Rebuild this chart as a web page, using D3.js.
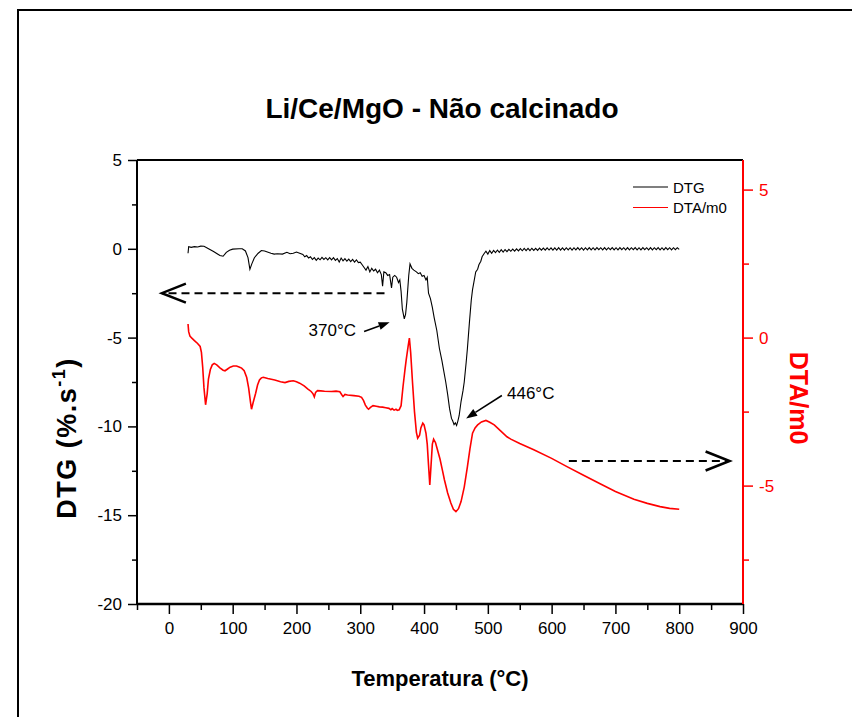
<!DOCTYPE html>
<html>
<head>
<meta charset="utf-8">
<script src="https://cdn.jsdelivr.net/npm/d3@7"></script>
<style>
  body { margin: 0; background: #fff; }
  #chart { width: 852px; height: 717px; }
  text { font-family: "Liberation Sans", Arial, sans-serif; }
</style>
</head>
<body>
<div id="chart"></div>
<script>
// Temperature ticks (°C)
const tempMajor = [0, 100, 200, 300, 400, 500, 600, 700, 800, 900];
const tempMinor = [-50, 50, 150, 250, 350, 450, 550, 650, 750, 850];
const dtgMajor = [-20, -15, -10, -5, 0, 5];
const dtgMinor = [-17.5, -12.5, -7.5, -2.5, 2.5];
const dtaMajor = [-5, 0, 5];
const dtaMinor = [-7.5, -2.5, 2.5];

// DTG curve [temperature, %.s-1]
const dtgMain = [
  [30, -0.25], [31, 0.12], [35, 0.08], [40, 0.12], [45, 0.1], [50, 0.15], [55, 0.14], [60, 0.05],
  [70, -0.15], [80, -0.38], [85, -0.42], [90, -0.2], [95, -0.08], [100, -0.02], [110, 0.0], [115, 0.0],
  [120, -0.12], [124, -0.5], [127, -1.15], [130, -0.85], [134, -0.5], [140, -0.25], [145, -0.1],
  [150, -0.12], [160, -0.25], [165, -0.3], [170, -0.28], [178, -0.3], [185, -0.2], [190, -0.28],
  [195, -0.25], [200, -0.18], [205, -0.25], [210, -0.32], [213, -0.45], [216, -0.38], [219, -0.52],
  [222, -0.45], [225, -0.6], [228, -0.5], [231, -0.65], [234, -0.52], [237, -0.62], [240, -0.48],
  [243, -0.6], [246, -0.5], [249, -0.62], [252, -0.5], [255, -0.62], [258, -0.5], [261, -0.65],
  [264, -0.55], [267, -0.75], [270, -0.52], [273, -0.68], [276, -0.55], [279, -0.7], [282, -0.58],
  [285, -0.72], [288, -0.6], [291, -0.75], [294, -0.62], [297, -0.78], [300, -0.75], [303, -0.9],
  [306, -1.05], [309, -1.2], [312, -1.0], [315, -1.3], [318, -1.1], [321, -1.25], [324, -1.15],
  [327, -1.35], [330, -1.2], [333, -1.45], [335, -2.1], [337, -1.3], [340, -1.35], [343, -1.5],
  [346, -1.45], [349, -2.2], [351, -1.6], [354, -1.5], [357, -1.6], [360, -1.9], [362, -1.75],
  [364, -2.4], [366, -3.4], [369, -3.95], [371, -3.7], [373, -3.0], [376, -1.5], [378, -0.85],
  [381, -1.1], [384, -1.2], [388, -1.3], [391, -1.4], [394, -1.35], [397, -1.55], [400, -1.5],
  [403, -1.75], [405, -1.6], [407, -2.5], [410, -2.8], [413, -3.3], [416, -3.9], [420, -4.6],
  [424, -5.6], [428, -6.3], [431, -6.9], [434, -7.5], [437, -8.2], [440, -9.0], [443, -9.55],
  [445, -9.7], [447, -9.9], [449, -9.8], [451, -9.95], [453, -9.7], [455, -9.4], [458, -8.6],
  [461, -8.0], [463, -7.5], [466, -6.4], [468, -5.6], [471, -4.2], [474, -2.9], [476, -2.3],
  [478, -1.9], [481, -1.3], [484, -1.15], [486, -0.9], [489, -0.7], [491, -0.45], [494, -0.28]
];
// the ripple on the flat end of the DTG curve
const dtgTail = [
  [497, -0.14], [500, -0.3], [503, -0.1], [506, -0.25], [509, -0.09], [512, -0.22], [515, -0.07],
  [518, -0.2], [521, -0.05], [524, -0.18], [527, -0.04], [530, -0.16], [533, -0.03], [536, -0.14],
  [539, -0.02], [542, -0.13], [545, 0.0], [548, -0.12], [551, 0.01], [554, -0.11], [557, 0.02],
  [560, -0.1], [563, 0.02], [566, -0.1], [569, 0.03], [572, -0.09], [575, 0.03], [578, -0.09],
  [581, 0.04], [584, -0.08], [587, 0.04], [590, -0.08], [593, 0.05], [596, -0.07], [599, 0.05],
  [602, -0.08], [605, 0.05], [608, -0.07], [611, 0.06], [614, -0.07], [617, 0.05], [620, -0.07],
  [623, 0.06], [626, -0.06], [629, 0.06], [632, -0.07], [635, 0.06], [638, -0.06], [641, 0.07],
  [644, -0.06], [647, 0.06], [650, -0.07], [653, 0.06], [656, -0.06], [659, 0.07], [662, -0.06],
  [665, 0.06], [668, -0.06], [671, 0.07], [674, -0.05], [677, 0.06], [680, -0.06], [683, 0.07],
  [686, -0.06], [689, 0.06], [692, -0.05], [695, 0.07], [698, -0.06], [701, 0.06], [704, -0.06],
  [707, 0.07], [710, -0.05], [713, 0.06], [716, -0.06], [719, 0.07], [722, -0.06], [725, 0.06],
  [728, -0.05], [731, 0.07], [734, -0.06], [737, 0.06], [740, -0.06], [743, 0.07], [746, -0.05],
  [749, 0.06], [752, -0.06], [755, 0.07], [758, -0.06], [761, 0.06], [764, -0.05], [767, 0.07],
  [770, -0.06], [773, 0.06], [776, -0.06], [779, 0.07], [782, -0.05], [785, 0.06], [788, -0.06],
  [791, 0.06], [794, -0.05], [797, 0.06], [800, -0.03]
];

// DTA/m0 curve [temperature, value]
const dtaCurve = [
  [30, 0.46], [31, 0.2], [33, 0.05], [36, -0.02], [40, -0.1], [45, -0.2], [49, -0.3], [51, -0.5],
  [53, -1.0], [55, -1.7], [57.5, -2.27], [60, -1.9], [62, -1.4], [65, -1.08], [68, -0.92], [71, -0.87],
  [75, -0.92], [80, -1.02], [85, -1.1], [88, -1.12], [92, -1.06], [96, -1.0], [101, -0.96],
  [106, -0.96], [110, -0.99], [114, -1.03], [118, -1.12], [122, -1.35], [125, -1.7], [128, -2.2],
  [129.5, -2.42], [132, -2.2], [136, -1.88], [139, -1.6], [142, -1.43], [145, -1.36], [148, -1.34],
  [155, -1.38], [166, -1.43], [175, -1.49], [182, -1.52], [188, -1.48], [195, -1.46], [200, -1.49],
  [205, -1.54], [212, -1.63], [218, -1.74], [223, -1.82], [226, -1.9], [228, -2.0], [230, -1.85],
  [233, -1.79], [238, -1.8], [244, -1.81], [255, -1.82], [262, -1.81], [268, -1.83], [271, -1.93],
  [273, -1.99], [276, -1.92], [280, -1.94], [290, -1.96], [298, -1.98], [302, -2.02], [305, -2.12],
  [308, -2.28], [311, -2.38], [313, -2.42], [316, -2.36], [320, -2.3], [325, -2.32], [330, -2.34],
  [335, -2.35], [340, -2.37], [345, -2.39], [348, -2.44], [350, -2.4], [353, -2.45], [356, -2.42],
  [358, -2.46], [361, -2.44], [364, -2.3], [367, -1.66], [370, -1.1], [372, -0.75], [375, -0.3],
  [377, -0.02], [379, -0.5], [382, -1.54], [385, -2.5], [388, -3.2], [390, -3.4], [393, -3.3],
  [395, -3.05], [398, -2.89], [400, -2.95], [403, -3.23], [405, -3.6], [407, -4.3], [409, -4.98],
  [411, -4.3], [413, -3.6], [415, -3.43], [418, -3.55], [421, -3.79], [425, -4.1], [429, -4.5],
  [432, -4.81], [437, -5.25], [442, -5.59], [446, -5.8], [450, -5.88], [454, -5.78], [458, -5.54],
  [463, -5.05], [468, -4.36], [472, -3.75], [476, -3.23], [480, -3.05], [484, -2.95], [490, -2.85],
  [497, -2.8], [503, -2.86], [510, -2.95], [520, -3.15], [530, -3.35], [536, -3.43], [550, -3.58],
  [572, -3.79], [600, -4.08], [624, -4.36], [650, -4.65], [676, -4.94], [700, -5.2], [729, -5.46],
  [750, -5.6], [770, -5.71], [785, -5.77], [800, -5.8]
];

const width = 852, height = 717;
const margin = { top: 160, right: 109, bottom: 113, left: 137 };
const font = '"Liberation Sans", Arial, sans-serif';

const svg = d3.select("#chart").append("svg")
  .attr("width", width)
  .attr("height", height);

// outer frame, runs off the right and bottom edges
svg.append("rect")
  .attr("x", 18).attr("y", 10)
  .attr("width", 900).attr("height", 800)
  .attr("fill", "none").attr("stroke", "#000").attr("stroke-width", 2);

const x = d3.scaleLinear().domain([-50, 900]).range([margin.left, width - margin.right]);
const yL = d3.scaleLinear().domain([-20, 5]).range([height - margin.bottom, margin.top]);
const yR = d3.scaleLinear().domain([-9, 6]).range([height - margin.bottom, margin.top]);

const x0 = x.range()[0], x1 = x.range()[1];
const yTop = yL.range()[1], yBot = yL.range()[0];

// plain hyphen for negative labels, as in the original plot
const plain = d => String(d);

function styleAxis(g, color, fontSize) {
  g.select(".domain").remove();
  g.selectAll(".tick line").attr("stroke", color).attr("stroke-width", 1.5);
  g.selectAll(".tick text").attr("fill", color).style("font-size", fontSize + "px").style("font-family", font);
}

// bottom axis
svg.append("g").attr("transform", `translate(0,${yBot})`)
  .call(d3.axisBottom(x).tickValues(tempMajor).tickFormat(plain).tickSize(10).tickPadding(8).tickSizeOuter(0))
  .call(g => styleAxis(g, "#000", 17));
svg.append("g").attr("transform", `translate(0,${yBot})`)
  .call(d3.axisBottom(x).tickValues(tempMinor).tickSize(6).tickFormat("").tickSizeOuter(0))
  .call(g => styleAxis(g, "#000", 17));

// left axis
svg.append("g").attr("transform", `translate(${x0},0)`)
  .call(d3.axisLeft(yL).tickValues(dtgMajor).tickFormat(plain).tickSize(9).tickPadding(6).tickSizeOuter(0))
  .call(g => styleAxis(g, "#000", 17));
svg.append("g").attr("transform", `translate(${x0},0)`)
  .call(d3.axisLeft(yL).tickValues(dtgMinor).tickSize(5).tickFormat("").tickSizeOuter(0))
  .call(g => styleAxis(g, "#000", 17));

// right axis (red)
svg.append("g").attr("transform", `translate(${x1},0)`)
  .call(d3.axisRight(yR).tickValues(dtaMajor).tickFormat(plain).tickSize(10).tickPadding(6).tickSizeOuter(0))
  .call(g => styleAxis(g, "red", 17));
svg.append("g").attr("transform", `translate(${x1},0)`)
  .call(d3.axisRight(yR).tickValues(dtaMinor).tickSize(6).tickFormat("").tickSizeOuter(0))
  .call(g => styleAxis(g, "red", 17));

// frame lines of the plot
svg.append("line").attr("x1", x0).attr("x2", x1).attr("y1", yTop).attr("y2", yTop)
  .attr("stroke", "#000").attr("stroke-width", 2);
svg.append("line").attr("x1", x0).attr("x2", x1).attr("y1", yBot).attr("y2", yBot)
  .attr("stroke", "#000").attr("stroke-width", 2.5);
svg.append("line").attr("x1", x0).attr("x2", x0).attr("y1", yTop).attr("y2", yBot)
  .attr("stroke", "#000").attr("stroke-width", 2);
svg.append("line").attr("x1", x1).attr("x2", x1).attr("y1", yTop).attr("y2", yBot)
  .attr("stroke", "red").attr("stroke-width", 2);

// curves
const lineL = d3.line().x(d => x(d[0])).y(d => yL(d[1]));
const lineR = d3.line().x(d => x(d[0])).y(d => yR(d[1]));

svg.append("path").datum(dtaCurve)
  .attr("d", lineR).attr("fill", "none").attr("stroke", "red").attr("stroke-width", 1.6);
svg.append("path").datum(dtgMain.concat(dtgTail))
  .attr("d", lineL).attr("fill", "none").attr("stroke", "#000").attr("stroke-width", 1.1);

// dashed arrows showing which axis each curve belongs to
function dashedArrow(xa, xb, y) {
  svg.append("line").attr("x1", xa).attr("x2", xb).attr("y1", y).attr("y2", y)
    .attr("stroke", "#000").attr("stroke-width", 2).attr("stroke-dasharray", "8,5");
  const dir = xb > xa ? -1 : 1;
  svg.append("polyline")
    .attr("points", `${xb + dir * 24},${y - 9.5} ${xb},${y} ${xb + dir * 24},${y + 9.5}`)
    .attr("fill", "none").attr("stroke", "#000").attr("stroke-width", 2.5);
}
dashedArrow(x(338), x(-11), yL(-2.5));
dashedArrow(x(627), x(879), yR(-4.17));

// peak annotations
function pointer(xa, ya, xb, yb) {
  const a = Math.atan2(yb - ya, xb - xa), len = 11, w = 4;
  const bx = xb - len * Math.cos(a), by = yb - len * Math.sin(a);
  svg.append("line").attr("x1", xa).attr("y1", ya).attr("x2", bx).attr("y2", by)
    .attr("stroke", "#000").attr("stroke-width", 1.5);
  svg.append("polygon")
    .attr("points", `${xb},${yb} ${bx + w * Math.sin(a)},${by - w * Math.cos(a)} ${bx - w * Math.sin(a)},${by + w * Math.cos(a)}`)
    .attr("fill", "#000");
}
svg.append("text").attr("x", x(219)).attr("y", yL(-4.9))
  .style("font-size", "17px").text("370°C");
pointer(x(306), yL(-4.66), x(346), yL(-4.14));
svg.append("text").attr("x", x(530)).attr("y", yL(-8.45))
  .style("font-size", "17px").text("446°C");
pointer(x(522), yL(-8.26), x(466), yL(-9.55));

// legend
const legend = [
  { label: "DTG", color: "#000", y: 187 },
  { label: "DTA/m0", color: "red", y: 207.5 }
];
legend.forEach(d => {
  svg.append("line").attr("x1", 633).attr("x2", 668).attr("y1", d.y).attr("y2", d.y)
    .attr("stroke", d.color).attr("stroke-width", 1.2);
  svg.append("text").attr("x", 673).attr("y", d.y + 5.5)
    .style("font-size", "15px").text(d.label);
});

// titles
svg.append("text").attr("x", 442).attr("y", 118).attr("text-anchor", "middle")
  .style("font-size", "28px").style("font-weight", "bold").text("Li/Ce/MgO - Não calcinado");
svg.append("text").attr("x", 440).attr("y", 686).attr("text-anchor", "middle")
  .style("font-size", "22px").style("font-weight", "bold").text("Temperatura (°C)");

const yLab = svg.append("text").attr("transform", "translate(76,438) rotate(-90)")
  .attr("text-anchor", "middle").style("font-size", "27px").style("font-weight", "bold")
  .style("letter-spacing", "1.5px");
yLab.append("tspan").text("DTG (%.s");
yLab.append("tspan").attr("dy", -11).style("font-size", "18px").text("-1");
yLab.append("tspan").attr("dy", 11).text(")");

svg.append("text").attr("transform", "translate(790,398) rotate(90)")
  .attr("text-anchor", "middle").attr("fill", "red")
  .style("font-size", "25px").style("font-weight", "bold").text("DTA/m0");
</script>
</body>
</html>
